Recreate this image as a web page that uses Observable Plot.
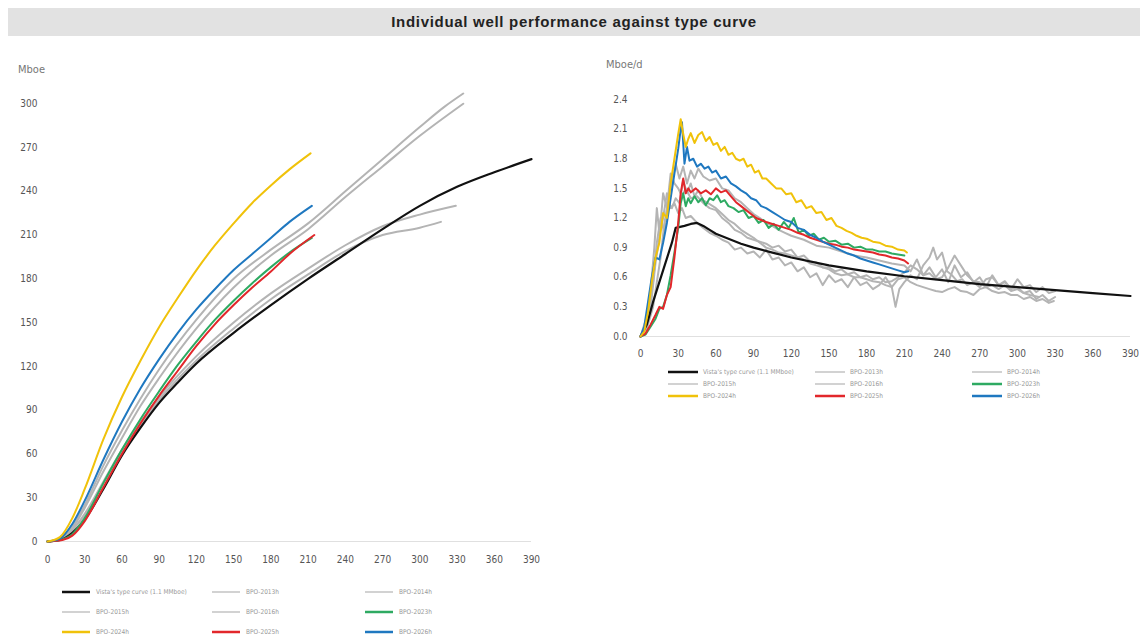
<!DOCTYPE html>
<html>
<head>
<meta charset="utf-8">
<script src="https://cdn.jsdelivr.net/npm/d3@7"></script>
<script src="https://cdn.jsdelivr.net/npm/@observablehq/plot@0.6"></script>
<style>
  html, body { margin: 0; padding: 0; background: #fff; }
  body { width: 1148px; height: 644px; position: relative; overflow: hidden; font-family: "Liberation Sans", Arial, sans-serif; }
  .abs { position: absolute; }
  #title { left: 8px; top: 8px; width: 1132px; height: 28px; background: #e2e2e2; text-align: center; line-height: 28px; font-weight: bold; font-size: 15px; color: #222; letter-spacing: 0.7px; }
  .unit { font-family: "Liberation Sans Narrow", "DejaVu Sans Condensed", sans-serif; font-size: 11px; color: #777; }
  .leg { font-family: "Liberation Sans Narrow", "DejaVu Sans Condensed", sans-serif; font-size: 6.5px; color: #999; white-space: nowrap; display: flex; align-items: center; }
</style>
</head>
<body>
<div id="title" class="abs">Individual well performance against type curve</div>
<div class="abs unit" style="left:18px; top:63px;">Mboe</div>
<div class="abs unit" style="left:606px; top:58px;">Mboe/d</div>
<div id="left" class="abs" style="left:0px; top:40px;"></div>
<div id="right" class="abs" style="left:590px; top:80px;"></div>
<div id="legL"></div>
<div id="legR"></div>
<script>
// ---------- series names and colours ----------
const seriesNames = ["Vista's type curve (1.1 MMboe)", "BPO-2013h", "BPO-2014h", "BPO-2015h", "BPO-2016h", "BPO-2023h", "BPO-2024h", "BPO-2025h", "BPO-2026h"];
const seriesColors = ["#111111", "#b4b4b4", "#b4b4b4", "#b4b4b4", "#b4b4b4", "#2eaa62", "#f0c20a", "#e2272b", "#1f78c0"];
const xTicks = [0, 30, 60, 90, 120, 150, 180, 210, 240, 270, 300, 330, 360, 390];
const yTicksCum = [0, 30, 60, 90, 120, 150, 180, 210, 240, 270, 300];
const yTicksRate = [0, 0.3, 0.6, 0.9, 1.2, 1.5, 1.8, 2.1, 2.4];

// ---------- cumulative production, Mboe [day, value] ----------
const cumType = [[0,0],[10,1],[20,6],[30,15],[45,36],[60,59],[75,78],[90,95],[105,109],[120,122],[150,143],[180,162],[210,180],[240,197],[270,214],[300,230],[330,243],[360,253],[390,262]];
const cumG1 = [[0,0],[10,2],[20,10],[30,25],[45,52],[60,76],[75,98],[90,118],[120,152],[150,180],[180,200],[210,218],[240,240],[270,262],[300,284],[320,298],[335,307]];
const cumG2 = [[0,0],[10,2],[20,9],[30,23],[45,48],[60,71],[75,93],[90,112],[120,146],[150,174],[180,196],[210,214],[240,236],[270,257],[300,278],[335,300]];
const cumG3 = [[0,0],[10,2],[20,8],[30,19],[45,41],[60,63],[75,82],[90,99],[120,127],[150,150],[180,170],[210,187],[240,203],[270,216],[300,224],[329,230]];
const cumG4 = [[0,0],[10,2],[20,8],[30,18],[45,40],[60,61],[75,80],[90,97],[120,124],[150,146],[180,166],[210,183],[240,199],[270,210],[300,215],[317,219]];
const cumGreen = [[0,0],[10,1],[20,5],[30,16],[45,40],[60,63],[75,84],[90,103],[105,121],[120,137],[135,152],[150,165],[165,177],[180,188],[195,198],[213,208]];
const cumYellow = [[0,0],[10,3],[20,16],[30,36],[45,70],[60,99],[75,124],[90,147],[105,167],[120,186],[135,203],[150,218],[165,232],[180,244],[195,255],[212,266]];
const cumRed = [[0,0],[12,1],[20,4],[30,14],[45,37],[60,60],[75,81],[90,100],[105,117],[120,134],[135,149],[150,162],[165,174],[180,185],[195,197],[215,210]];
const cumBlue = [[0,0],[10,2],[20,12],[30,28],[45,56],[60,82],[75,105],[90,125],[105,143],[120,159],[135,173],[150,186],[165,197],[180,208],[195,219],[213,230]];

// ---------- daily rate, Mboe/d [day, value] ----------
const rateType = [[0,0],[5,0.12],[10,0.35],[15,0.55],[20,0.75],[25,0.95],[28,1.1],[35,1.12],[40,1.14],[45,1.15],[50,1.12],[55,1.08],[60,1.04],[70,0.99],[80,0.94],[90,0.9],[105,0.85],[120,0.8],[150,0.72],[180,0.66],[210,0.61],[240,0.57],[270,0.53],[300,0.5],[330,0.47],[360,0.44],[390,0.41]];
const rateG1 = [[0,0],[5,0.2],[10,0.55],[13,0.95],[16,1.2],[19,1.05],[22,1.4],[25,1.55],[28,1.75],[31,1.6],[34,1.72],[37,1.55],[40,1.68],[43,1.6],[46,1.7],[50,1.62],[55,1.58],[60,1.6],[65,1.5],[70,1.48],[75,1.4],[80,1.36],[85,1.3],[90,1.24],[95,1.2],[100,1.15],[105,1.12],[110,1.08],[115,1.05],[120,1.02],[130,0.98],[140,0.92],[150,0.9],[160,0.86],[170,0.82],[180,0.8],[190,0.77],[200,0.74],[210,0.72],[215,0.66],[220,0.78],[225,0.62],[230,0.7],[235,0.6],[240,0.68],[245,0.55],[250,0.72],[255,0.6],[260,0.65],[265,0.55],[270,0.6],[275,0.5],[280,0.62],[285,0.52],[290,0.56],[295,0.48],[300,0.58],[305,0.5],[310,0.52],[315,0.45],[320,0.5],[325,0.44],[330,0.46]];
const rateG2 = [[0,0],[4,0.12],[8,0.45],[11,0.9],[13,1.3],[15,1.05],[18,1.2],[21,1.45],[24,1.3],[27,1.35],[30,1.25],[33,1.3],[36,1.2],[40,1.22],[45,1.15],[50,1.1],[55,1.05],[60,1.02],[65,0.98],[70,0.95],[75,0.88],[80,0.9],[85,0.84],[90,0.86],[95,0.8],[100,0.88],[105,0.78],[110,0.8],[115,0.72],[120,0.75],[125,0.66],[130,0.7],[135,0.6],[140,0.64],[145,0.52],[150,0.62],[155,0.55],[160,0.58],[165,0.5],[170,0.6],[175,0.52],[180,0.55],[185,0.48],[190,0.52],[195,0.6],[200,0.5],[203,0.3],[206,0.48],[210,0.55],[215,0.62],[220,0.58],[225,0.72],[230,0.8],[233,0.9],[236,0.78],[240,0.85],[244,0.66],[248,0.62],[252,0.56],[256,0.58],[260,0.52],[265,0.55],[270,0.5],[275,0.58],[280,0.6],[285,0.52],[290,0.55],[295,0.48],[300,0.5],[305,0.44],[310,0.46],[315,0.38],[320,0.42],[325,0.36],[330,0.4]];
const rateG3 = [[0,0],[5,0.1],[9,0.4],[12,0.75],[15,1.0],[18,1.45],[21,1.3],[24,1.65],[27,1.55],[30,1.5],[33,1.42],[36,1.5],[40,1.4],[45,1.42],[50,1.35],[55,1.3],[60,1.28],[65,1.2],[70,1.15],[75,1.08],[80,1.05],[85,1.0],[90,0.98],[95,0.96],[100,0.94],[105,0.9],[110,0.92],[115,0.86],[120,0.88],[125,0.8],[130,0.82],[135,0.76],[140,0.75],[145,0.7],[150,0.7],[155,0.66],[160,0.68],[165,0.63],[170,0.65],[175,0.6],[180,0.62],[185,0.58],[190,0.6],[195,0.55],[200,0.56],[205,0.6],[210,0.65],[215,0.72],[220,0.68],[225,0.62],[230,0.64],[235,0.58],[240,0.6],[245,0.7],[250,0.82],[253,0.76],[256,0.7],[260,0.62],[265,0.56],[270,0.55],[275,0.5],[280,0.52],[285,0.48],[290,0.52],[295,0.46],[300,0.48],[305,0.44],[310,0.42],[317,0.4]];
const rateG4 = [[0,0],[5,0.08],[10,0.3],[13,0.55],[16,0.8],[19,1.15],[22,1.35],[25,1.3],[28,1.4],[31,1.35],[34,1.58],[37,1.45],[40,1.55],[43,1.42],[46,1.48],[50,1.38],[55,1.34],[60,1.3],[65,1.24],[70,1.18],[75,1.14],[80,1.08],[85,1.04],[90,1.0],[95,0.95],[100,0.9],[105,0.88],[110,0.85],[115,0.84],[120,0.82],[125,0.8],[130,0.78],[135,0.74],[140,0.72],[145,0.7],[150,0.68],[155,0.64],[160,0.62],[165,0.63],[170,0.6],[175,0.6],[180,0.58],[185,0.56],[190,0.55],[195,0.52],[200,0.5],[205,0.58],[210,0.6],[215,0.55],[220,0.52],[225,0.5],[230,0.48],[235,0.46],[240,0.45],[245,0.48],[250,0.5],[255,0.46],[260,0.45],[265,0.42],[270,0.48],[275,0.5],[280,0.46],[285,0.44],[290,0.45],[295,0.42],[300,0.42],[305,0.38],[310,0.4],[315,0.36],[320,0.38],[325,0.34],[329,0.36]];
const rateGreen = [[0,0],[4,0.02],[8,0.1],[12,0.18],[15,0.28],[18,0.3],[21,0.42],[24,0.62],[27,0.85],[30,1.1],[32,1.35],[34,1.45],[36,1.32],[38,1.4],[40,1.35],[43,1.42],[46,1.36],[49,1.4],[52,1.33],[55,1.4],[58,1.38],[61,1.43],[64,1.36],[67,1.38],[70,1.32],[74,1.3],[78,1.26],[82,1.28],[86,1.2],[90,1.22],[94,1.15],[98,1.18],[102,1.1],[106,1.14],[110,1.08],[114,1.16],[118,1.1],[122,1.2],[126,1.05],[130,1.08],[134,1.02],[138,1.04],[142,0.98],[146,1.0],[150,0.96],[155,0.97],[160,0.93],[165,0.94],[170,0.9],[175,0.91],[180,0.88],[185,0.88],[190,0.86],[195,0.86],[200,0.84],[205,0.83],[210,0.82]];
const rateYellow = [[0,0],[3,0.05],[6,0.25],[9,0.55],[12,0.8],[15,0.95],[18,1.25],[21,1.2],[24,1.55],[27,1.8],[30,2.05],[32,2.2],[34,2.05],[36,1.92],[38,2.0],[40,2.06],[43,1.96],[46,2.04],[49,2.07],[52,1.98],[55,2.02],[58,1.94],[61,1.96],[64,1.88],[67,1.92],[70,1.84],[73,1.86],[76,1.8],[79,1.78],[82,1.8],[85,1.72],[88,1.74],[91,1.66],[94,1.68],[97,1.6],[100,1.6],[104,1.55],[108,1.5],[112,1.5],[116,1.44],[120,1.45],[124,1.36],[128,1.38],[132,1.3],[136,1.32],[140,1.25],[144,1.26],[148,1.18],[152,1.2],[156,1.12],[160,1.1],[164,1.07],[168,1.05],[172,1.02],[176,1.0],[180,0.99],[185,0.96],[190,0.95],[195,0.92],[200,0.91],[205,0.88],[210,0.87],[212,0.85]];
const rateRed = [[0,0],[4,0.03],[8,0.12],[12,0.22],[15,0.3],[18,0.28],[21,0.42],[24,0.5],[27,0.8],[30,1.15],[32,1.45],[34,1.6],[36,1.45],[38,1.5],[40,1.46],[44,1.5],[48,1.45],[52,1.48],[56,1.44],[60,1.5],[64,1.46],[68,1.48],[72,1.42],[76,1.36],[80,1.32],[84,1.28],[88,1.24],[92,1.2],[96,1.18],[100,1.16],[105,1.14],[110,1.12],[115,1.1],[120,1.08],[125,1.05],[130,1.03],[135,1.0],[140,0.98],[145,0.96],[150,0.94],[155,0.93],[160,0.91],[165,0.9],[170,0.88],[175,0.87],[180,0.86],[185,0.85],[190,0.83],[195,0.82],[200,0.8],[205,0.79],[210,0.77],[213,0.74]];
const rateBlue = [[0,0],[3,0.1],[6,0.35],[9,0.6],[12,0.8],[15,0.78],[18,0.95],[21,1.15],[24,1.4],[27,1.65],[30,1.9],[32,2.1],[33,2.17],[35,1.75],[37,1.92],[39,1.78],[42,1.8],[45,1.72],[48,1.75],[51,1.7],[54,1.72],[57,1.66],[60,1.68],[64,1.6],[68,1.62],[72,1.55],[76,1.52],[80,1.48],[84,1.45],[88,1.4],[92,1.38],[96,1.32],[100,1.3],[105,1.26],[110,1.22],[115,1.18],[120,1.16],[125,1.1],[130,1.08],[135,1.03],[140,1.0],[145,0.96],[150,0.93],[155,0.9],[160,0.87],[165,0.84],[170,0.82],[175,0.79],[180,0.77],[185,0.75],[190,0.73],[195,0.71],[200,0.69],[205,0.67],[210,0.65],[213,0.66]];

const cumSeries = [cumType, cumG1, cumG2, cumG3, cumG4, cumGreen, cumYellow, cumRed, cumBlue];
const rateSeries = [rateType, rateG1, rateG2, rateG3, rateG4, rateGreen, rateYellow, rateRed, rateBlue];

// draw order: greys first, then type curve, then colours
const drawOrder = [1, 2, 3, 4, 0, 5, 7, 8, 6];

function toRows(list) {
  const rows = [];
  for (const i of drawOrder) {
    for (const [d, v] of list[i]) rows.push({day: d, value: v, series: seriesNames[i], order: i});
  }
  return rows;
}

const axisFont = "'Liberation Sans Narrow', 'DejaVu Sans Condensed', sans-serif";

function makeChart(rows, opts) {
  return Plot.plot({
    width: opts.width,
    height: opts.height,
    marginLeft: opts.ml, marginRight: opts.mr, marginTop: opts.mt, marginBottom: opts.mb,
    style: {fontFamily: axisFont, fontSize: "10px", color: "#555", background: "transparent"},
    x: {domain: [0, 390], label: null},
    y: {domain: opts.yDomain, label: null},
    color: {domain: seriesNames, range: seriesColors},
    marks: [
      Plot.ruleY([0], {stroke: "#e0e0e0", strokeWidth: 1}),
      Plot.axisX({ticks: xTicks, tickSize: 0, tickPadding: opts.xPad, tickFormat: d => String(d), fill: "#555"}),
      Plot.axisY({ticks: opts.yTicks, tickSize: 0, tickPadding: opts.yPad, tickFormat: opts.yFormat, fill: "#555"}),
      ...drawOrder.map(i => Plot.line(rows.filter(r => r.order === i), {
        x: "day", y: "value", stroke: "series",
        strokeWidth: i === 0 ? 2.2 : 2,
        curve: opts.curve, strokeLinejoin: "round"
      }))
    ]
  });
}

document.getElementById("left").appendChild(makeChart(toRows(cumSeries), {
  width: 580, height: 540, ml: 47, mr: 49, mt: 34, mb: 39,
  yDomain: [0, 320], yTicks: yTicksCum, yFormat: d => String(d), xPad: 14, yPad: 10, curve: "monotone-x"
}));

document.getElementById("right").appendChild(makeChart(toRows(rateSeries), {
  width: 558, height: 290, ml: 50, mr: 18, mt: 19, mb: 34,
  yDomain: [0, 2.4], yTicks: yTicksRate, yFormat: d3.format(".1f"), xPad: 13, yPad: 13, curve: "linear"
}));

// ---------- legends ----------
const legendOrder = [0, 1, 2, 3, 4, 5, 6, 7, 8];
function makeLegend(container, cols, rowsY, swatchW, swatchGap) {
  legendOrder.forEach((i, k) => {
    const r = Math.floor(k / 3), c = k % 3;
    const div = document.createElement("div");
    div.className = "abs leg";
    div.style.left = cols[c] + "px";
    div.style.top = (rowsY[r] - 5) + "px";
    div.style.height = "10px";
    const thick = (i === 0 || i >= 5);
    div.innerHTML = `<svg width="${swatchW}" height="10" style="margin-right:${swatchGap}px"><line x1="0" x2="${swatchW}" y1="5" y2="5" stroke="${seriesColors[i]}" stroke-width="${thick ? 2.5 : 1.2}"/></svg><span>${seriesNames[i]}</span>`;
    document.getElementById(container).appendChild(div);
  });
}
makeLegend("legL", [62, 212, 365], [592, 612, 632], 28, 6);
makeLegend("legR", [668, 815, 972], [372, 384, 396], 30, 5);
</script>
</body>
</html>
